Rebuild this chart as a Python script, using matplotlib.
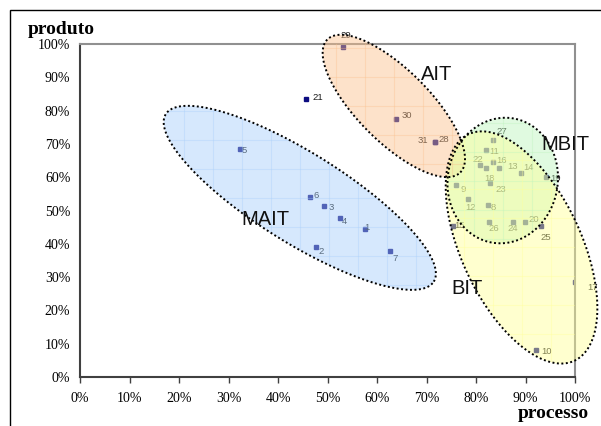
import numpy as np
import matplotlib.pyplot as plt
from matplotlib.patches import Polygon, Rectangle
from matplotlib.collections import LineCollection

plt.rcParams['font.family'] = ['Liberation Sans', 'DejaVu Sans']

# companies: process (x) vs product (y) share, in %
ids = list(range(1, 32))
processo = [57.6, 47.7, 49.3, 52.5, 32.4, 46.5, 62.7, 82.4, 76.0, 92.2,
            82.0, 78.4, 84.6, 89.0, 75.3, 83.5, 100.0, 82.0, 94.1, 89.8,
            45.7, 80.8, 82.8, 87.4, 93.1, 82.7, 83.5, 71.8, 53.2, 63.8, 71.8]
produto = [44.3, 38.9, 51.3, 47.7, 68.4, 54.1, 37.8, 51.8, 57.7, 8.0,
           68.1, 53.6, 62.9, 61.2, 45.4, 64.7, 28.4, 62.9, 60.2, 46.6,
           83.4, 63.8, 58.3, 46.5, 45.3, 46.6, 71.2, 70.5, 99.2, 77.5, 70.5]

# groups (ellipse centres in data units)
group_names = ['MAIT', 'AIT', 'MBIT', 'BIT']
group_cx = [44.4, 63.4, 85.4, 89.2]
group_cy = [53.8, 81.4, 59.0, 38.9]
# where the group name is written
name_x = [37.4, 72.1, 98.0, 78.2]
name_y = [47.4, 90.7, 69.7, 26.7]

# ellipse shape in pixels: semi-axes and rotation
ell_a = [158, 94, 63, 125]
ell_b = [45, 36, 55, 60]
ell_ang = [-32, -45, 80, -65]
ell_col = ['#a6cefb', '#fbbf8b', '#bcf4bc', '#ffff96']

# point label offsets in pixels
lab_off = {1: (-1, 2), 2: (2, -4), 3: (5, -1), 4: (2, -3), 5: (1, -1), 6: (3, 1),
           7: (2, -7), 8: (3, -3), 9: (4, -5), 10: (5, -1), 11: (3, -1),
           12: (-3, -9), 13: (9, 1), 14: (3, 6), 15: (2, 0), 16: (3, 1),
           17: (12, -5), 18: (-2, -11), 19: (4, -2), 20: (4, 2), 21: (6, 2),
           22: (3, 5), 23: (6, -7), 24: (-5, -6), 25: (0, -11), 26: (-1, -7),
           27: (3, 8), 28: (3, 3), 29: (-3, 11), 30: (6, 3), 31: (-7, 2)}
right_aligned = [22, 31]

fig = plt.figure(figsize=(6.01, 4.26), dpi=100)
ax = fig.add_axes([80/601, 49/426, 495/601, 333/426])
ax.set_xlim(0, 100)
ax.set_ylim(0, 100)

ax.plot(processo, produto, 's', color='#0c0c80', markersize=2.8, zorder=2)
for i, x, y in zip(ids, processo, produto):
    dx, dy = lab_off[i]
    ha = 'right' if i in right_aligned else 'left'
    ax.annotate(str(i), (x, y), xytext=(dx, dy), textcoords='offset pixels',
                ha=ha, va='center', fontsize=6.8, color='#1a1a1a', zorder=3,
                annotation_clip=False)


def ellipse_pts(cx, cy, a, b, ang):
    t = np.linspace(0, 2*np.pi, 300)
    c = ax.transData.transform((cx, cy))
    r = np.deg2rad(ang)
    px = c[0] + a*np.cos(t)*np.cos(r) - b*np.sin(t)*np.sin(r)
    py = c[1] + a*np.cos(t)*np.sin(r) + b*np.sin(t)*np.cos(r)
    return ax.transData.inverted().transform(np.column_stack([px, py]))


inv = ax.transData.inverted()
for k in range(4):
    pts = ellipse_pts(group_cx[k], group_cy[k], ell_a[k], ell_b[k], ell_ang[k])
    fill = Polygon(pts, closed=True, facecolor=ell_col[k], alpha=0.45,
                   edgecolor='none', zorder=4, clip_on=False)
    ax.add_patch(fill)
    # faint texture grid inside the shape
    c = ax.transData.transform((group_cx[k], group_cy[k]))
    segs = []
    for j in range(-8, 9):
        segs.append(inv.transform([[c[0] + j*29, c[1] - 250], [c[0] + j*29, c[1] + 250]]))
        segs.append(inv.transform([[c[0] - 250, c[1] + j*29], [c[0] + 250, c[1] + j*29]]))
    lc = LineCollection(segs, colors=ell_col[k], linewidths=0.8, alpha=0.35, zorder=4.5)
    ax.add_collection(lc)
    lc.set_clip_path(fill)
    outline = Polygon(pts, closed=True, facecolor='none', edgecolor='black',
                      linewidth=1.4, linestyle=(0, (1, 1.3)), zorder=5, clip_on=False)
    ax.add_patch(outline)
    ax.text(name_x[k], name_y[k], group_names[k], fontsize=14.5, ha='center',
            va='center', color='#111111', zorder=6)

ticks = np.arange(0, 101, 10)
ax.set_xticks(ticks)
ax.set_yticks(ticks)
ax.set_xticklabels([f'{t}%' for t in ticks], family='Liberation Serif', fontsize=10)
ax.set_yticklabels([f'{t}%' for t in ticks], family='Liberation Serif', fontsize=10)
ax.tick_params(axis='x', direction='out', length=4, width=1, color='#404040', pad=7)
ax.tick_params(axis='y', length=0, pad=7)

for s in ['left', 'bottom']:
    ax.spines[s].set_color('#404040')
    ax.spines[s].set_linewidth(1.5)
for s in ['top', 'right']:
    ax.spines[s].set_color('#909090')
    ax.spines[s].set_linewidth(1.5)

fig.text(28/601, 1 - 34/426, 'produto', family='Liberation Serif', fontweight='bold',
         fontsize=14, va='baseline')
fig.text(518/601, 1 - 418/426, 'processo', family='Liberation Serif', fontweight='bold',
         fontsize=14, va='baseline')

fig.add_artist(Rectangle((10/601, -0.1), 1.2, 1 - 10/426 + 0.1, transform=fig.transFigure,
                         facecolor='none', edgecolor='black', linewidth=1))

fig.savefig('out.png', dpi=100)
